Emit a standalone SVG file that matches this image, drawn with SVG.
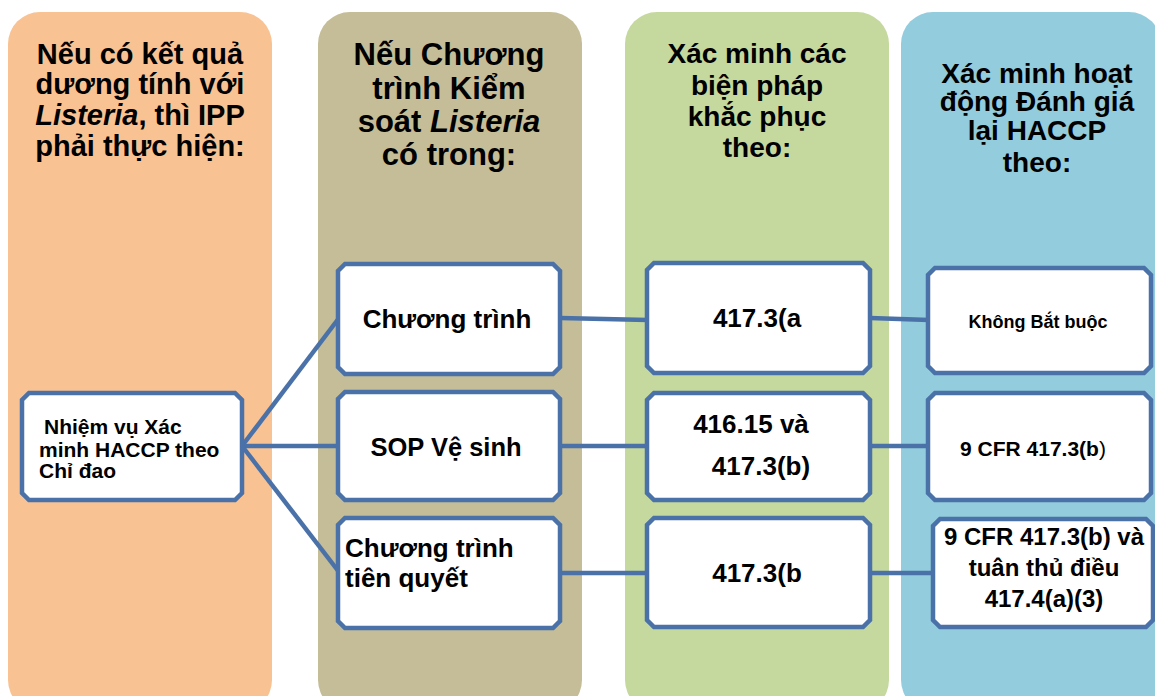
<svg xmlns="http://www.w3.org/2000/svg" width="1155" height="696" viewBox="0 0 1155 696">
<style>
.col{stroke:none}
.hd{font-family:"Liberation Sans",Arial,sans-serif;font-weight:bold;font-size:28px;fill:#000;text-anchor:middle}
.bx{fill:#fff;stroke:#4A71A8;stroke-width:4.5;stroke-linejoin:miter}
.t{font-family:"Liberation Sans",Arial,sans-serif;font-weight:bold;fill:#000}
.c{text-anchor:middle}
.ln{stroke:#4A71A8;stroke-width:4.5;fill:none;stroke-linecap:butt}
</style>
<rect width="1155" height="696" fill="#fff"/>
<g id="columns">
<rect class="col" x="8" y="12" width="264" height="700" rx="32" fill="#F9C292"/>
<rect class="col" x="318" y="12" width="264" height="700" rx="32" fill="#C4BD97"/>
<rect class="col" x="625" y="12" width="264" height="700" rx="32" fill="#C5D89E"/>
<rect class="col" x="901" y="12" width="260" height="700" rx="32" fill="#93CCDD"/>
</g>
<g id="headers">
<text class="hd" style="font-size:29px"><tspan x="140" y="64">Nếu có kết quả</tspan><tspan x="140" y="94">dương tính với</tspan><tspan x="140" y="125"><tspan font-style="italic">Listeria</tspan>, thì IPP</tspan><tspan x="140" y="156">phải thực hiện:</tspan></text>
<text class="hd" style="font-size:31px"><tspan x="449" y="65">Nếu Chương</tspan><tspan x="449" y="99">trình Kiểm</tspan><tspan x="449" y="132">soát <tspan font-style="italic">Listeria</tspan></tspan><tspan x="449" y="165">có trong:</tspan></text>
<text class="hd"><tspan x="757" y="63">Xác minh các</tspan><tspan x="757" y="95">biện pháp</tspan><tspan x="757" y="126">khắc phục</tspan><tspan x="757" y="157">theo:</tspan></text>
<text class="hd"><tspan x="1037" y="83">Xác minh hoạt</tspan><tspan x="1037" y="111">động Đánh giá</tspan><tspan x="1037" y="140">lại HACCP</tspan><tspan x="1037" y="172">theo:</tspan></text>
</g>
<g id="connectors">
<line class="ln" x1="242" y1="446" x2="339" y2="318"/>
<line class="ln" x1="242" y1="446" x2="339" y2="446"/>
<line class="ln" x1="242" y1="446" x2="339" y2="572"/>
<line class="ln" x1="560" y1="318" x2="648" y2="320"/>
<line class="ln" x1="560" y1="446" x2="648" y2="446"/>
<line class="ln" x1="560" y1="573" x2="648" y2="573"/>
<line class="ln" x1="870" y1="318" x2="929" y2="320"/>
<line class="ln" x1="870" y1="446" x2="929" y2="446"/>
<line class="ln" x1="870" y1="573" x2="934" y2="573"/>
</g>
<g id="n-task">
<path class="bx" d="M29,393 H235 L242,400 V493 L235,500 H29 L22,493 V400 Z"/>
<text class="t" font-size="21"><tspan x="44" y="434">Nhiệm vụ Xác</tspan><tspan x="39" y="457">minh HACCP theo</tspan><tspan x="39" y="478">Chỉ đao</tspan></text>
</g>
<g id="n-program">
<path class="bx" d="M345,264 H553 L560,271 V367 L553,374 H345 L338,367 V271 Z"/>
<text class="t c" font-size="26" x="447" y="328">Chương trình</text>
</g>
<g id="n-sop">
<path class="bx" d="M345,392 H553 L560,399 V493 L553,500 H345 L338,493 V399 Z"/>
<text class="t c" font-size="25.5" x="446" y="456">SOP Vệ sinh</text>
</g>
<g id="n-prereq">
<path class="bx" d="M345,518 H553 L560,525 V621 L553,628 H345 L338,621 V525 Z"/>
<text class="t" font-size="26"><tspan x="345" y="557">Chương trình</tspan><tspan x="345" y="587">tiên quyết</tspan></text>
</g>
<g id="n-4173a">
<path class="bx" d="M654,263 H863 L870,270 V366 L863,373 H654 L647,366 V270 Z"/>
<text class="t c" font-size="26" x="757" y="327">417.3(a</text>
</g>
<g id="n-41615">
<path class="bx" d="M654,393 H863 L870,400 V493 L863,500 H654 L647,493 V400 Z"/>
<text class="t c" font-size="26"><tspan x="751" y="433">416.15 và</tspan><tspan x="761" y="475">417.3(b)</tspan></text>
</g>
<g id="n-4173b">
<path class="bx" d="M654,518 H863 L870,525 V620 L863,627 H654 L647,620 V525 Z"/>
<text class="t c" font-size="26" x="757" y="582">417.3(b</text>
</g>
<g id="n-notreq">
<path class="bx" d="M935,268 H1144 L1151,275 V366 L1144,373 H935 L928,366 V275 Z"/>
<text class="t c" font-size="18" x="1038" y="328">Không Bắt buộc</text>
</g>
<g id="n-cfr">
<path class="bx" d="M935,393 H1144 L1151,400 V493 L1144,500 H935 L928,493 V400 Z"/>
<text class="t c" font-size="21" x="1033" y="456">9 CFR 417.3(b<tspan font-weight="normal">)</tspan></text>
</g>
<g id="n-cfr2">
<path class="bx" d="M940,519 H1146 L1153,526 V620 L1146,627 H940 L933,620 V526 Z"/>
<text class="t c" font-size="24"><tspan x="1044" y="545">9 CFR 417.3(b) và</tspan><tspan x="1044" y="576">tuân thủ điều</tspan><tspan x="1044" y="607">417.4(a)(3)</tspan></text>
</g>
</svg>
